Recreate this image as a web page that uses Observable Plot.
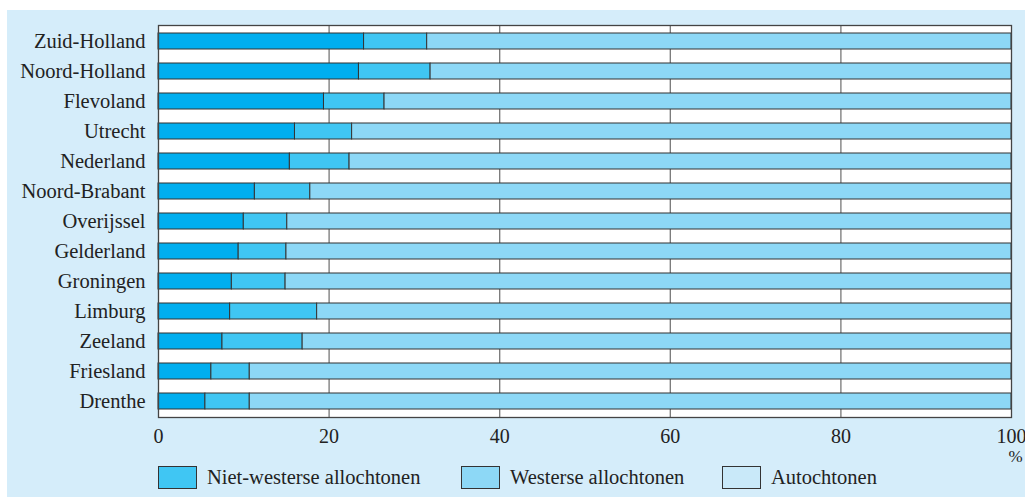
<!DOCTYPE html>
<html>
<head>
<meta charset="utf-8">
<script src="https://cdn.jsdelivr.net/npm/d3@7"></script>
<script src="https://cdn.jsdelivr.net/npm/@observablehq/plot@0.6"></script>
<style>
  html, body { margin: 0; padding: 0; background: #ffffff; }
  #wrap { position: relative; width: 1025px; height: 497px; overflow: hidden; font-family: "Liberation Serif", serif; color: #222; }
  #panel { position: absolute; left: 7px; top: 10px; width: 1018px; height: 487px; background: #d5edfa; }
  #chart { position: absolute; left: 0; top: 0; }
  .leg { position: absolute; top: 466px; height: 23px; display: flex; align-items: center; font-size: 20.5px; }
  .leg .box { width: 37px; height: 21px; border: 1px solid #333; margin-right: 10px; }
</style>
</head>
<body>
<div id="wrap">
  <div id="panel"></div>
  <div id="chart"></div>
</div>
<script>
const regions = ["Zuid-Holland","Noord-Holland","Flevoland","Utrecht","Nederland","Noord-Brabant","Overijssel","Gelderland","Groningen","Limburg","Zeeland","Friesland","Drenthe"];
const nietWesters = [24.1, 23.5, 19.4, 16.0, 15.4, 11.3, 10.0, 9.4, 8.6, 8.4, 7.5, 6.2, 5.5];
const westers     = [7.4, 8.4, 7.1, 6.7, 7.0, 6.5, 5.1, 5.6, 6.3, 10.2, 9.4, 4.5, 5.2];
const groups = ["Niet-westerse allochtonen", "Westerse allochtonen", "Autochtonen"];
const barColors = ["#00aeef", "#40c6f3", "#8dd8f6"];
const legendColors = ["#40c6f3", "#8dd8f6", "#c9e9f9"];
const xTicks = [0, 20, 40, 60, 80, 100];
const gridTicks = [20, 40, 60, 80];

const rows = [];
regions.forEach((r, i) => {
  const a = nietWesters[i], b = westers[i];
  rows.push({region: r, group: groups[0], value: a});
  rows.push({region: r, group: groups[1], value: b});
  rows.push({region: r, group: groups[2], value: 100 - a - b});
});

const chart = Plot.plot({
  width: 1025,
  height: 475,
  marginLeft: 158,
  marginRight: 14,
  marginTop: 25,
  marginBottom: 58,
  style: {background: "transparent", fontFamily: "Liberation Serif, serif", fontSize: "20px", color: "#222"},
  x: {domain: [0, 100], ticks: xTicks, label: null},
  y: {domain: regions, paddingInner: 0.48, paddingOuter: 0.24, label: null},
  color: {domain: groups, range: barColors},
  marks: [
    Plot.frame({fill: "white", stroke: "none"}),
    Plot.ruleX(gridTicks, {stroke: "#777", strokeWidth: 1.3}),
    Plot.barX(rows, Plot.stackX({x: "value", y: "region", fill: "group", order: groups, stroke: "#333", strokeWidth: 1, inset: 0})),
    Plot.frame({stroke: "#444", strokeWidth: 1.3}),
    Plot.axisY({tickSize: 0, tickPadding: 13, fontSize: 20.5, label: null}),
    Plot.axisX({ticks: xTicks, tickSize: 0, tickPadding: 11, fontSize: 20, label: null}),
    Plot.text(["%"], {frameAnchor: "bottom-right", text: d => d, dx: 4, dy: 44, fontSize: 17, textAnchor: "middle"})
  ]
});
document.getElementById("chart").appendChild(chart);

const legendX = [158, 461, 722];
const wrap = document.getElementById("wrap");
groups.forEach((g, i) => {
  const item = document.createElement("div");
  item.className = "leg";
  item.style.left = legendX[i] + "px";
  const box = document.createElement("div");
  box.className = "box";
  box.style.background = legendColors[i];
  const t = document.createElement("span");
  t.textContent = g;
  item.appendChild(box);
  item.appendChild(t);
  wrap.appendChild(item);
});
</script>
</body>
</html>
